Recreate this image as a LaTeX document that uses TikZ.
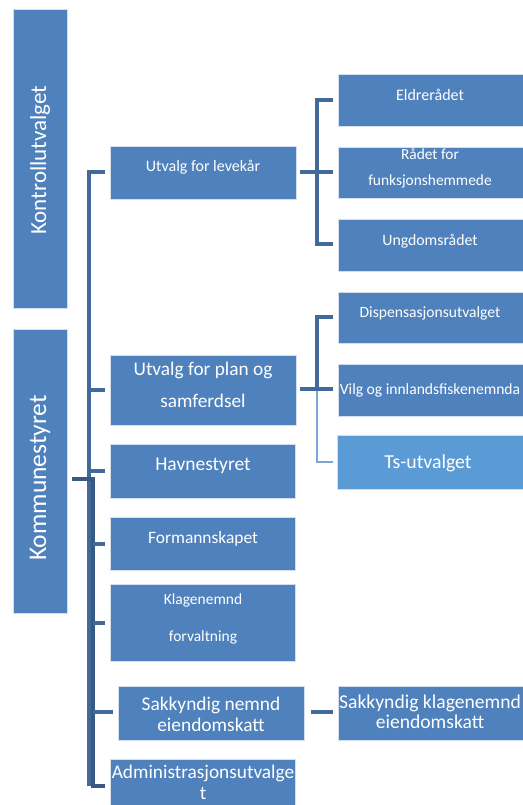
\documentclass[tikz,border=0pt]{standalone}
\usepackage{fontspec}
\setmainfont{Carlito}
\definecolor{boxblue}{HTML}{4F81BD}
\definecolor{lightblue}{HTML}{5B9BD5}
\definecolor{connblue}{HTML}{41699A}
\definecolor{connlight}{HTML}{7BA7D8}
\tikzset{
  box/.style={draw=white!75!boxblue, line width=0.6pt, fill=boxblue, anchor=north west, inner sep=0pt},
  lbox/.style={box, fill=lightblue, draw=white!70!lightblue},
  txt/.style={text=white, align=center, inner sep=0pt},
  conn/.style={draw=connblue, line width=3.5pt},
  connl/.style={draw=connlight, line width=2.5pt},
}
\newcommand{\fs}[2]{\fontsize{#1pt}{#2pt}\selectfont}
\begin{document}
\begin{tikzpicture}[x=1pt,y=-1pt]
\useasboundingbox (0,0) rectangle (522,805);
% left tall boxes
\node[box, minimum width=54pt, minimum height=299pt] (kontroll) at (13,9) {};
\node[txt, rotate=90, font=\fs{23}{26}] (kontrollT) at (40,160) {Kontrollutvalget};
\node[box, minimum width=54pt, minimum height=284pt] (kommune) at (13,329) {};
\node[txt, rotate=90, font=\fs{25.5}{29}] (kommuneT) at (40,478) {Kommunestyret};
% middle column
\node[box, minimum width=186pt, minimum height=53pt] (lev) at (110,146) {};
\node[txt, font=\fs{16}{19}] (levT) at (203,167) {Utvalg for levekår};
\node[box, minimum width=186pt, minimum height=70pt] (plan) at (110,355) {};
\node[txt, font=\fs{19.3}{32}] (planT) at (203,385) {Utvalg for plan og\\samferdsel};
\node[box, minimum width=185pt, minimum height=54pt] (havn) at (110,444) {};
\node[txt, font=\fs{19.5}{22}] (havnT) at (203,466) {Havnestyret};
\node[box, minimum width=185pt, minimum height=53pt] (form) at (110,517) {};
\node[txt, font=\fs{17.4}{20}] (formT) at (203,539) {Formannskapet};
\node[box, minimum width=185pt, minimum height=77pt] (klage) at (110,584) {};
\node[txt, font=\fs{15.5}{37}] (klageT) at (203,619) {Klagenemnd\\forvaltning};
\node[box, minimum width=186pt, minimum height=54pt] (sakk) at (118,686) {};
\node[txt, font=\fs{19.4}{21}] (sakkT) at (211,714) {Sakkyndig nemnd\\eiendomskatt};
\node[box, minimum width=185pt, minimum height=50pt] (admin) at (110,759) {};
\node[txt, font=\fs{19.3}{21}] (adminT) at (203,782) {Administrasjonsutvalge\\t};
% right column
\node[box, minimum width=190pt, minimum height=52pt] (eldre) at (338,74) {};
\node[txt, font=\fs{16}{18}] (eldreT) at (430,95) {Eldrerådet};
\node[box, minimum width=190pt, minimum height=51pt] (funk) at (338,147) {};
\node[txt, font=\fs{15.4}{26}] (funkT) at (430,168) {Rådet for\\funksjonshemmede};
\node[box, minimum width=190pt, minimum height=52pt] (ungd) at (338,219) {};
\node[txt, font=\fs{15.8}{18}] (ungdT) at (430,241) {Ungdomsrådet};
\node[box, minimum width=190pt, minimum height=51pt] (disp) at (338,292) {};
\node[txt, font=\fs{15.6}{18}] (dispT) at (430,313) {Dispensasjonsutvalget};
\node[box, minimum width=190pt, minimum height=52pt] (vilg) at (338,364) {};
\node[txt, font=\fs{15.6}{18}] (vilgT) at (430,390) {Vilg og innlandsfiskenemnda};
\node[lbox, minimum width=190pt, minimum height=54pt] (ts) at (337,435) {};
\node[txt, font=\fs{19.8}{22}] (tsT) at (428,463) {Ts-utvalget};
\node[box, minimum width=190pt, minimum height=54pt] (sakkk) at (338,686) {};
\node[txt, font=\fs{19.6}{20}] (sakkkT) at (430,712) {Sakkyndig klagenemnd\\eiendomskatt};
% connectors: levekår bracket
\coordinate (levR) at (300,172);
\draw[conn] (levR) -- (317,172);
\draw[conn] ([xshift=-5pt]eldre.west |- 0,100) -- (317,100) -- (317,244) -- ([xshift=-5pt]ungd.west |- 0,244);
\draw[conn] (317,172) -- ([xshift=-5pt]funk.west |- 0,172);
% plan bracket
\draw[connl] (317,389) -- (317,462) -- ([xshift=-4pt]ts.west |- 0,462);
\draw[conn] ([xshift=-5pt]disp.west |- 0,317) -- (317,317) -- (317,389);
\draw[conn] (300,389) -- ([xshift=-5pt]vilg.west |- 0,389);
% main vertical from levekår
\draw[conn] ([xshift=-5pt]lev.west |- 0,172) -- (89,172) -- (89,786);
\draw[conn] (89,390) -- ([xshift=-5pt]plan.west |- 0,390);
\draw[conn] (89,471) -- ([xshift=-5pt]havn.west |- 0,471);
% kommunestyret bracket
\draw[conn, draw=connblue!85!black, line width=4pt] (72,479) -- (93,479) -- (93,786) -- ([xshift=-5pt]admin.west |- 0,786);
\draw[conn] (93,544) -- ([xshift=-5pt]form.west |- 0,544);
\draw[conn] (93,623) -- ([xshift=-5pt]klage.west |- 0,623);
\draw[conn] (93,712) -- ([xshift=-5pt]sakk.west |- 0,712);
\draw[conn] ([xshift=6pt]sakk.east |- 0,712) -- ([xshift=-5pt]sakkk.west |- 0,712);
\end{tikzpicture}
\end{document}
